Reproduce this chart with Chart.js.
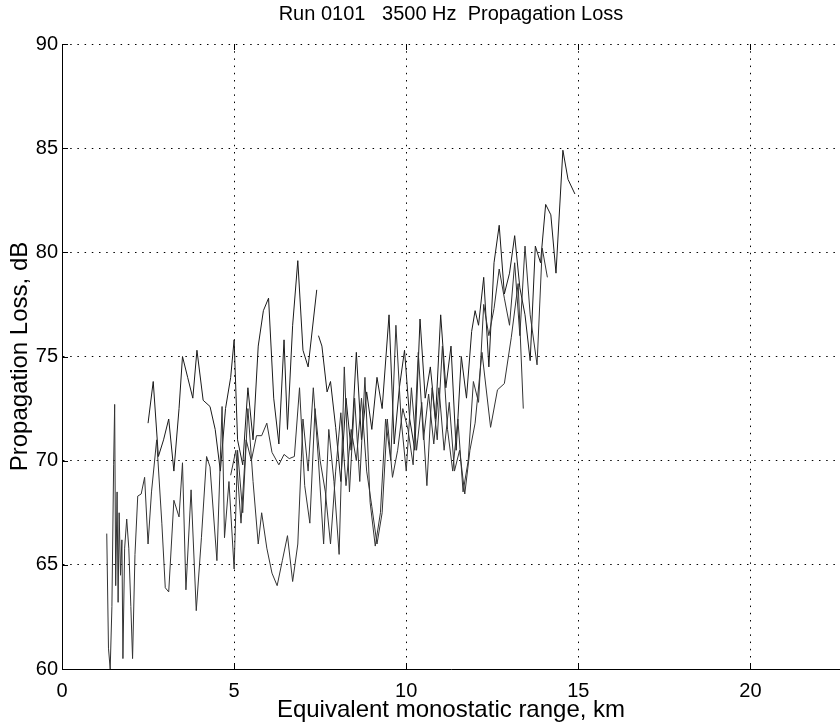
<!DOCTYPE html>
<html>
<head>
<meta charset="utf-8">
<script src="https://cdn.jsdelivr.net/npm/chart.js@4"></script>
<style>
  html, body { margin: 0; padding: 0; background: #fff; }
  #wrap { width: 840px; height: 727px; }
</style>
</head>
<body>
<div id="wrap"><canvas id="lossChart" width="840" height="727"></canvas></div>
<script>
// Propagation loss runs (range km, loss dB)
const run1X = [1.30,1.35,1.40,1.45,1.50,1.53,1.56,1.60,1.63,1.66,1.70,1.74,1.77,1.82,1.88,1.94,2.00,2.05,2.12,2.20,2.30,2.40,2.50,2.60,2.75,2.90,3.00,3.10,3.25,3.40,3.50,3.60,3.75,3.90,4.05,4.20,4.30,4.50,4.65,4.72,4.85,5.00,5.10,5.25,5.40,5.55,5.70,5.80,5.95,6.10,6.25,6.40,6.55,6.70,6.85,7.00,7.15,7.30,7.45,7.60,7.75,7.90,8.05,8.20,8.35,8.50,8.65,8.80,8.95,9.10,9.25,9.40,9.55,9.70,9.85,10.00,10.15,10.30,10.45,10.60,10.75,10.90,11.05,11.20,11.35,11.50,11.65,11.80,11.95,12.10,12.25,12.40,12.55,12.70,12.85,13.00,13.15,13.30,13.45,13.60,13.80,13.95,14.10];
const run1Y = [66.5,61.0,60.0,63.0,69.8,72.7,64.0,68.5,63.2,67.5,64.5,66.2,60.5,65.8,67.2,65.8,63.0,60.5,65.5,68.3,68.4,69.2,66.0,68.5,71.0,67.0,63.9,63.7,68.1,67.3,69.9,63.8,68.6,62.8,66.3,70.2,69.7,65.2,72.6,66.3,69.0,64.8,70.5,67.5,72.5,69.0,66.0,67.5,65.8,64.6,64.0,65.2,66.4,64.2,66.0,72.0,69.5,73.5,70.0,66.0,71.5,69.0,65.5,74.5,68.5,73.0,69.0,74.0,68.0,65.9,67.5,72.0,70.0,76.5,72.0,69.5,73.5,70.5,72.8,68.8,73.5,71.0,75.5,71.5,69.5,72.0,68.5,70.0,73.8,72.8,77.5,76.0,77.3,79.2,77.8,76.5,79.5,76.0,80.3,77.0,74.6,80.2,78.8];

const run2X = [2.50,2.65,2.80,2.95,3.10,3.25,3.40,3.50,3.65,3.80,3.92,4.10,4.30,4.45,4.60,4.75,4.90,5.00,5.10,5.25,5.40,5.55,5.70,5.85,6.00,6.15,6.30,6.45,6.55,6.70,6.85,7.00,7.15,7.40];
const run2Y = [71.8,73.8,70.2,71.0,72.0,69.5,72.5,75.0,74.0,73.0,75.3,72.9,72.6,71.5,69.5,72.5,74.0,75.8,71.0,69.8,73.5,71.0,75.5,77.2,77.8,73.0,70.8,75.8,71.5,76.5,79.6,75.3,74.5,78.2];

const run3X = [4.90,5.05,5.20,5.35,5.50,5.65,5.80,5.95,6.10,6.30,6.45,6.60,6.75,6.90,7.05,7.20,7.35,7.50,7.65,7.80,7.95,8.10,8.25,8.40,8.55,8.70,8.85,9.00,9.15,9.30,9.45,9.60,9.75,9.90,10.05,10.20,10.35,10.50,10.65,10.80,10.95,11.10,11.25,11.40,11.55,11.70,11.85,12.00,12.20,12.45,12.65,12.85,13.05,13.25,13.40];
const run3Y = [69.3,70.5,67.0,71.0,70.0,71.2,71.2,71.8,70.4,69.8,70.3,70.1,70.2,73.5,68.8,67.0,72.5,70.0,68.5,66.0,69.5,72.3,68.8,71.5,70.0,73.0,69.5,67.8,66.0,67.5,72.0,69.2,70.5,72.5,71.5,69.8,75.2,71.0,73.2,70.8,73.5,70.5,72.8,69.5,70.5,68.4,70.5,71.8,75.2,71.6,73.4,73.7,75.9,78.5,72.5];

const run4X = [7.45,7.55,7.70,7.80,7.95,8.10,8.25,8.40,8.55,8.70,8.85,9.00,9.15,9.30,9.50,9.65,9.80,9.95,10.10,10.25,10.40,10.55,10.70,10.85,11.00,11.15,11.30,11.45,11.60,11.75,11.90,12.00,12.10,12.25,12.40,12.55,12.70,12.85,13.00,13.15,13.30,13.45,13.60,13.75,13.90,14.05,14.20,14.35,14.55,14.70,14.90];
const run4Y = [76.0,75.5,73.3,73.8,71.6,69.0,73.0,70.5,75.2,71.0,73.3,71.5,74.0,72.5,77.0,70.8,73.5,75.3,72.0,70.5,76.8,73.0,74.5,72.0,77.0,73.5,75.5,70.5,75.0,73.0,76.2,77.2,76.5,78.8,74.5,79.5,81.3,78.0,79.0,80.8,78.3,77.0,74.8,80.3,79.5,82.3,81.8,79.0,84.9,83.5,82.8];

const xTicks = [0, 5, 10, 15, 20];
const yTicks = [60, 65, 70, 75, 80, 85, 90];

const FONT = 'Liberation Sans, Arial, Helvetica, sans-serif';

function toPoints(xs, ys) {
    return xs.map((x, i) => ({ x: x, y: ys[i] }));
}

const runs = [[run1X, run1Y], [run2X, run2Y], [run3X, run3Y], [run4X, run4Y]];

// inward tick marks and centred title, matlab style
const axisDecor = {
    id: 'axisDecor',
    afterDraw(chart) {
        const ctx = chart.ctx;
        const a = chart.chartArea;
        const xs = chart.scales.x, ys = chart.scales.y;
        ctx.save();
        ctx.strokeStyle = '#000';
        ctx.lineWidth = 1;
        ctx.beginPath();
        xTicks.forEach(v => {
            const px = Math.round(xs.getPixelForValue(v)) + 0.5;
            ctx.moveTo(px, a.bottom);
            ctx.lineTo(px, a.bottom - 6);
            ctx.moveTo(px, a.top);
            ctx.lineTo(px, a.top + 6);
        });
        yTicks.forEach(v => {
            const py = Math.round(ys.getPixelForValue(v)) + 0.5;
            ctx.moveTo(a.left, py);
            ctx.lineTo(a.left + 6, py);
        });
        ctx.stroke();
        ctx.fillStyle = '#000';
        ctx.font = '20px ' + FONT;
        ctx.textAlign = 'center';
        ctx.textBaseline = 'middle';
        ctx.fillText('Run 0101   3500 Hz  Propagation Loss', (a.left + a.right) / 2, 14);
        ctx.restore();
    }
};

new Chart(document.getElementById('lossChart'), {
    type: 'line',
    data: {
        datasets: runs.map((r, i) => ({
            label: 'Run ' + (i + 1),
            data: toPoints(r[0], r[1]),
            borderColor: i % 2 ? '#1a1a1a' : '#333',
            borderWidth: 1,
            pointRadius: 0,
            fill: false,
            tension: 0,
        })),
    },
    options: {
        responsive: false,
        animation: false,
        layout: { padding: { top: 44, right: 0, left: 6, bottom: 2 } },
        plugins: {
            legend: { display: false },
            title: { display: false },
            tooltip: { enabled: false },
        },
        scales: {
            x: {
                type: 'linear',
                min: 0,
                max: 22.6,
                afterFit: s => { s.height = 56; },
                ticks: {
                    stepSize: 5,
                    includeBounds: false,
                    maxRotation: 0,
                    color: '#000',
                    padding: 10,
                    font: { family: FONT, size: 20 },
                },
                grid: { color: '#000', lineWidth: 1, drawTicks: false },
                border: { display: true, color: '#000', width: 1, dash: [1.5, 5.7] },
                title: {
                    display: true,
                    text: 'Equivalent monostatic range, km',
                    color: '#000',
                    padding: { top: 0, bottom: 0 },
                    font: { family: FONT, size: 24 },
                },
            },
            y: {
                min: 60,
                max: 90,
                afterFit: s => { s.width = 56; },
                ticks: {
                    stepSize: 5,
                    color: '#000',
                    padding: 4,
                    font: { family: FONT, size: 20 },
                },
                grid: { color: '#000', lineWidth: 1, drawTicks: false },
                border: { display: true, color: '#000', width: 1, dash: [1.5, 5.7] },
                title: {
                    display: true,
                    text: 'Propagation Loss, dB',
                    color: '#000',
                    padding: { top: 0, bottom: 0 },
                    font: { family: FONT, size: 24 },
                },
            },
        },
    },
    plugins: [axisDecor],
});
</script>
</body>
</html>
